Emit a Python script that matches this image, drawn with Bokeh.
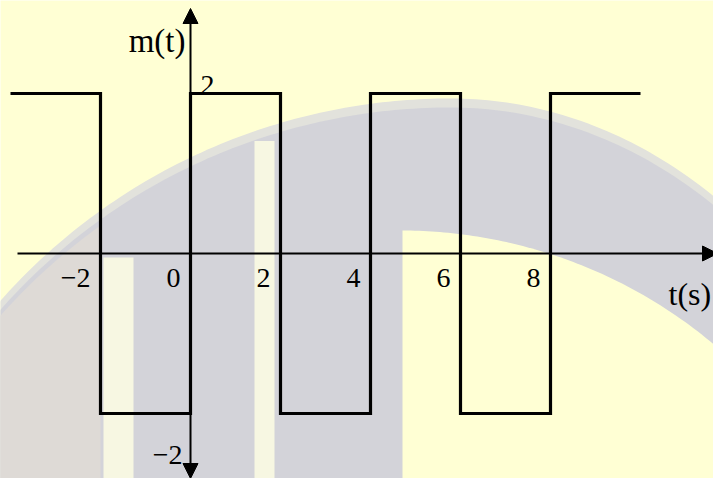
import numpy as np
from bokeh.plotting import figure
from bokeh.models import Range1d, Arrow, NormalHead
from bokeh.core.properties import value
from bokeh.embed import file_html
from bokeh.resources import INLINE

# ---------------- data ----------------
edges = [-4, -2, 0, 2, 4, 6, 8, 10]          # switching instants t (s)
levels = [2, -2, 2, -2, 2, -2, 2]            # m(t) on each interval
x_ticks = [-2, 0, 2, 4, 6, 8]
x_tick_labels = ["\u22122", "0", "2", "4", "6", "8"]
y_ticks_pos = [2]
y_tick_labels_pos = ["2"]
y_ticks_neg = [-2]
y_tick_labels_neg = ["\u22122"]
y_title = "m(t)"
x_title = "t(s)"

# ---------------- styles ----------------
YELLOW = "#FFFFD4"
GREY = "#D3D3D9"
EDGE = "#E2E2DC"
LIGHT = "#F7F7E2"
LEFTGREY = "#DEDAD6"
FONT = "Liberation Serif"

W, H = 713, 478
PX_PER_X = 45.0
PX_PER_Y = 80.0
ORIGIN_X = 190.0   # pixel column of t = 0
ORIGIN_Y = 253.0   # pixel row of m = 0

X0 = -ORIGIN_X / PX_PER_X
X1 = (W - ORIGIN_X) / PX_PER_X
Y1 = ORIGIN_Y / PX_PER_Y
Y0 = -(H - ORIGIN_Y) / PX_PER_Y


def dx(px):
    return (np.asarray(px, dtype=float) - ORIGIN_X) / PX_PER_X


def dy(py):
    return (ORIGIN_Y - np.asarray(py, dtype=float)) / PX_PER_Y


p = figure(width=W, height=H, x_range=Range1d(X0, X1), y_range=Range1d(Y0, Y1),
           output_backend="svg", toolbar_location=None,
           x_axis_location=None, y_axis_location=None, min_border=0,
           background_fill_color=YELLOW, border_fill_color=YELLOW,
           outline_line_color=None)
p.grid.visible = False


# ---------------- faded background emblem ----------------
def outer_arc(x):
    x = np.asarray(x, dtype=float)
    a = np.where(x < 450, 600.0, 480.0)
    t = np.clip((x - 450.0) / a, -0.999, 0.999)
    return 700.0 - 597.0 * np.sqrt(1 - t ** 2)


def inner_arc(x):
    x = np.asarray(x, dtype=float)
    t = np.clip((x - 400.0) / 480.0, -0.999, 0.999)
    return 700.0 - 470.0 * np.sqrt(1 - t ** 2)


xa = np.linspace(-10, 730, 120)
ya = outer_arc(xa)
# soft fringe then main grey body
p.patch(dx(np.r_[xa, 730, -10]), dy(np.r_[ya - 5, 500, 500]),
        fill_color=EDGE, line_color=None)
p.patch(dx(np.r_[xa, 730, -10]), dy(np.r_[ya + 4, 500, 500]),
        fill_color=GREY, line_color=None)

# lighter left part
xl = np.linspace(-10, 100, 30)
p.patch(dx(np.r_[xl, 100, -10]), dy(np.r_[outer_arc(xl) + 10, 500, 500]),
        fill_color=LEFTGREY, line_color=None)

# pale pillars
p.quad(left=dx(103), right=dx(133), top=dy(257), bottom=dy(500),
       fill_color=LIGHT, line_color=None)
p.quad(left=dx(254), right=dx(274), top=dy(outer_arc(264) + 8), bottom=dy(500),
       fill_color=LIGHT, line_color=None)

# yellow inner opening on the right
xi = np.linspace(402, 730, 80)
p.patch(dx(np.r_[402, xi, 730, 402]), dy(np.r_[500, inner_arc(xi), 500, 500]),
        fill_color=YELLOW, line_color=None)

# ---------------- axes with arrows ----------------
head = dict(size=15, fill_color="black", line_color="black")
p.add_layout(Arrow(end=NormalHead(**head),
                   x_start=dx(17), y_start=0, x_end=dx(717), y_end=0,
                   line_width=2, line_color="black"))
p.add_layout(Arrow(start=NormalHead(**head), end=NormalHead(**head),
                   x_start=0, y_start=dy(478), x_end=0, y_end=dy(8),
                   line_width=2, line_color="black"))

# ---------------- square wave ----------------
xs, ys = [], []
for i, lv in enumerate(levels):
    xs += [edges[i], edges[i + 1]]
    ys += [lv, lv]
p.line(xs, ys, line_width=3.2, line_color="black", line_join="miter")

# ---------------- labels ----------------
p.text(x=x_ticks, y=[0] * len(x_ticks), text=x_tick_labels,
       text_font=value(FONT), text_font_size="28px", text_color="black",
       text_align="right", text_baseline="alphabetic", x_offset=-10, y_offset=24)
p.text(x=[0] * len(y_ticks_pos), y=y_ticks_pos, text=y_tick_labels_pos,
       text_font=value(FONT), text_font_size="28px", text_color="black",
       text_align="left", text_baseline="alphabetic", x_offset=10, y_offset=-9)
p.text(x=[0] * len(y_ticks_neg), y=y_ticks_neg, text=y_tick_labels_neg,
       text_font=value(FONT), text_font_size="28px", text_color="black",
       text_align="right", text_baseline="alphabetic", x_offset=-8, y_offset=41)
p.text(x=[0], y=[dy(8)], text=[y_title],
       text_font=value(FONT), text_font_size="33px", text_color="black",
       text_align="right", text_baseline="alphabetic", x_offset=-5, y_offset=32)
p.text(x=[dx(668)], y=[0], text=[x_title],
       text_font=value(FONT), text_font_size="32px", text_color="black",
       text_align="left", text_baseline="alphabetic", y_offset=40)

open("out.html", "w").write(file_html(p, INLINE))
